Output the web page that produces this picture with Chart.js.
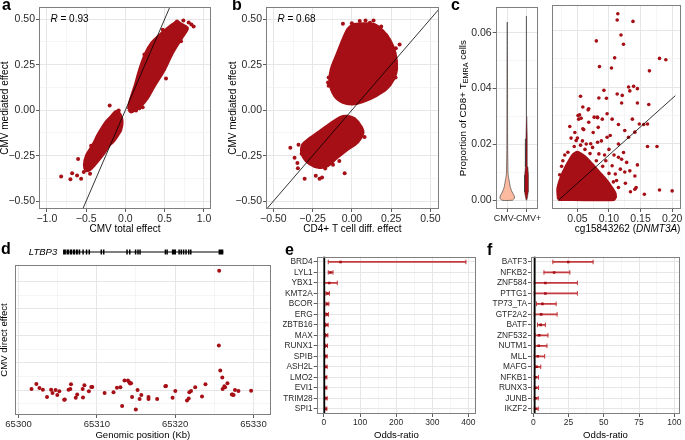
<!DOCTYPE html>
<html>
<head>
<meta charset="utf-8">
<script src="https://cdn.jsdelivr.net/npm/chart.js@4.4.1/dist/chart.umd.min.js"></script>
<style>
  html, body { margin: 0; padding: 0; background: #fff; }
  #fig { position: relative; width: 685px; height: 440px; overflow: hidden; font-family: "Liberation Sans", Arial, sans-serif; }
  #fig canvas { position: absolute; }
  .tag { position: absolute; font-weight: bold; font-size: 16px; line-height: 16px; color: #000; }
</style>
</head>
<body>
<div id="fig">
  <canvas id="ca" width="222" height="236" style="left:0;top:0"></canvas>
  <canvas id="cb" width="220" height="236" style="left:228px;top:0"></canvas>
  <canvas id="cv" width="93" height="236" style="left:450px;top:0"></canvas>
  <canvas id="cs" width="137" height="236" style="left:548px;top:0"></canvas>
  <canvas id="cd" width="282" height="204" style="left:0;top:236px"></canvas>
  <canvas id="ce" width="201" height="204" style="left:283px;top:236px"></canvas>
  <canvas id="cf" width="199" height="204" style="left:486px;top:236px"></canvas>
  <div class="tag" style="left:2px;top:-3px">a</div>
  <div class="tag" style="left:232px;top:-3px">b</div>
  <div class="tag" style="left:451px;top:-3px">c</div>
  <div class="tag" style="left:1px;top:241px">d</div>
  <div class="tag" style="left:285px;top:242px">e</div>
  <div class="tag" style="left:487px;top:242px">f</div>
</div>
<script>
// ---------- colours / fonts
const FONT = '"Liberation Sans", Arial, sans-serif';
const RED = '#A50F15';
const ERR = '#C23B3F';
const GRID = '#E6E6E6';
const GRID_MINOR = '#F1F1F1';
const BORDER = '#7F7F7F';
const TICK = '#333333';
const TXT = '#2a2a2a';

// ---------- panel a : CMV total vs mediated effect
const aUpperCloud = [[0.04,0.005],[0.055,0.043],[0.123,0.134],[0.183,0.225],[0.26,0.315],[0.335,0.369],[0.42,0.406],[0.517,0.442],[0.60,0.47],[0.66,0.485],[0.72,0.47],[0.79,0.451],[0.73,0.406],[0.60,0.315],[0.50,0.225],[0.37,0.134],[0.27,0.06],[0.20,0.025],[0.12,0.0],[0.07,-0.01]];
const aLowerCloud = [[-0.10,-0.005],[-0.06,-0.03],[-0.042,-0.065],[-0.06,-0.11],[-0.098,-0.138],[-0.15,-0.17],[-0.204,-0.192],[-0.289,-0.246],[-0.394,-0.301],[-0.458,-0.328],[-0.50,-0.33],[-0.522,-0.301],[-0.492,-0.246],[-0.415,-0.192],[-0.352,-0.138],[-0.30,-0.10],[-0.246,-0.065],[-0.18,-0.035],[-0.13,-0.01]];
const aOutliers = [[0.657,0.487],[0.738,0.493],[0.806,0.482],[0.869,0.46],[0.84,0.47],[0.475,0.442],[0.708,0.379],[0.517,0.174],[0.242,0.306],[0.25,0.30],[0.157,0.025],[0.136,-0.002],[0.178,0.011],[0.22,0.016],[-0.085,-0.002],[-0.20,0.025],
  [-0.818,-0.364],[-0.678,-0.346],[-0.70,-0.379],[-0.615,-0.359],[-0.564,-0.377],[-0.602,-0.268],[-0.436,-0.196],[-0.49,-0.33],[-0.45,-0.35],[-0.53,-0.34],[-0.47,-0.31]];
const aR = '0.93';

// ---------- panel b : CD4+ T cell diff. effect vs mediated effect
const bUpperCloud = [[0.006,0.47],[0.07,0.475],[0.145,0.47],[0.198,0.435],[0.24,0.388],[0.275,0.315],[0.285,0.225],[0.265,0.17],[0.219,0.116],[0.155,0.08],[0.07,0.047],[0.006,0.034],[-0.057,0.043],[-0.11,0.08],[-0.14,0.152],[-0.131,0.225],[-0.099,0.297],[-0.057,0.388],[-0.025,0.445]];
const bLowerCloud = [[-0.025,-0.033],[0.017,-0.047],[0.06,-0.092],[0.07,-0.128],[0.038,-0.174],[-0.036,-0.22],[-0.099,-0.264],[-0.153,-0.305],[-0.206,-0.315],[-0.269,-0.295],[-0.315,-0.246],[-0.315,-0.192],[-0.269,-0.156],[-0.195,-0.11],[-0.121,-0.065],[-0.068,-0.038]];
const bOutliers = [[-0.057,0.475],[0.0,0.478],[0.018,0.455],[0.087,0.493],[0.138,0.493],[0.187,0.46],[0.304,0.36],[0.28,0.34],[0.278,0.179],[-0.089,0.252],[-0.148,0.179],[-0.152,0.152],[-0.148,0.134],[0.05,0.49],[0.115,0.48],[0.22,0.41],
  [-0.392,-0.207],[-0.365,-0.261],[-0.347,-0.29],[-0.344,-0.319],[-0.301,-0.377],[-0.206,-0.377],[-0.046,-0.346],[0.081,-0.147],[-0.17,-0.32],[-0.23,-0.36],[-0.19,-0.37],[-0.34,-0.19],[-0.32,-0.24],[-0.12,-0.30],[-0.08,-0.28]];
const bR = '0.68';
const identityEnds = [-0.7, 0.7];

// ---------- panel c : violins + scatter
const violinGroups = ['CMV-\u2002', '\u2002CMV+'];
const violinPos = [0, 1];
const cmvNegY = [0, 0.0008, 0.0015, 0.0025, 0.0035, 0.005, 0.007, 0.0085, 0.01, 0.02, 0.04, 0.0638];
const cmvNegHalf = [0.27, 0.38, 0.37, 0.29, 0.22, 0.15, 0.10, 0.06, 0.04, 0.02, 0.015, 0];
const cmvPosY = [0, 0.001, 0.003, 0.006, 0.009, 0.012, 0.016, 0.022, 0.03, 0.045, 0.066];
const cmvPosHalf = [0.01, 0.05, 0.09, 0.11, 0.095, 0.07, 0.045, 0.032, 0.02, 0.013, 0];
const cCore = [[0.02,0.0003],[0.019,0.004],[0.024,0.008],[0.03,0.011],[0.036,0.0135],[0.043,0.016],[0.05,0.017],[0.058,0.016],[0.066,0.0145],[0.076,0.012],[0.086,0.0095],[0.096,0.007],[0.104,0.0045],[0.11,0.0022],[0.108,0.0003]];
const cPoints = [[0.114,0.066],[0.113,0.0638],[0.138,0.0633],[0.119,0.0585],[0.123,0.0552],[0.080,0.0564],[0.109,0.0504],[0.085,0.0473],[0.104,0.0468],[0.180,0.0502],[0.190,0.0497],[0.164,0.0458],[0.131,0.0401],[0.139,0.0403],[0.145,0.0395],[0.133,0.0387],[0.092,0.0389],[0.055,0.0368],[0.084,0.0362],[0.096,0.0361],[0.113,0.0376],[0.121,0.0371],[0.120,0.0344],[0.145,0.0344],[0.163,0.0339],[0.0586,0.033],[0.068,0.0324],[0.067,0.032],[0.097,0.0306],[0.0535,0.0302],[0.0766,0.0294],[0.0817,0.0294],[0.0894,0.0287],[0.105,0.0287],[0.137,0.0287],[0.052,0.0287],[0.056,0.029],
  [0.038,0.0261],[0.0586,0.0253],[0.068,0.0276],[0.082,0.0292],[0.115,0.0268],[0.097,0.0223],[0.102,0.0229],[0.115,0.0199],[0.131,0.0223],[0.141,0.0241],[0.155,0.0268],[0.161,0.019],[0.115,0.0152],[0.12,0.0145],[0.128,0.0134],[0.133,0.0104],[0.141,0.0086],[0.143,0.0045],[0.141,0.0039],[0.156,0.0021],[0.180,0.0036],[0.200,0.0033],[0.110,0.0012],[0.102,0.0045],[0.092,0.0069],[0.110,0.0093],[0.105,0.0122],[0.095,0.014],[0.084,0.0164],[0.074,0.0187],[0.064,0.0199],[0.048,0.0211],[0.051,0.030],[0.083,0.0258],[0.125,0.0247],[0.123,0.0169],[0.082,0.0205],
  [0.075,0.024],[0.088,0.021],[0.06,0.025],[0.1,0.018],[0.108,0.016],[0.118,0.011],[0.126,0.006],[0.134,0.003],[0.112,0.007],[0.125,0.01],[0.046,0.024],[0.04,0.022],[0.03,0.016],[0.025,0.012],[0.028,0.003],[0.145,0.0125],[0.176,0.019],[0.161,0.027],[0.148,0.027],
  [0.045,0.019],[0.055,0.0195],[0.062,0.018],[0.07,0.0165],[0.08,0.014],[0.09,0.012],[0.035,0.017],[0.1,0.0095],[0.107,0.0065],[0.115,0.0045],[0.05,0.022],[0.058,0.021],[0.022,0.009],[0.027,0.014],[0.093,0.016],[0.071,0.02]];
const cFitLine = [[0.02, 0.0], [0.205, 0.037]];

// ---------- panel d : LTBP3 locus
const dKb = [65301.66,65302.28,65302.67,65303.11,65303.64,65304.16,65304.34,65304.73,65304.95,65305.21,65305.83,65305.91,65306.39,65306.61,65306.70,65307.31,65307.49,65308.19,65308.23,65308.41,65308.98,65309.29,65309.42,65310.99,65312.13,65312.57,65313.01,65313.23,65313.53,65313.97,65314.15,65314.24,65314.37,65314.50,65314.98,65315.20,65315.46,65315.68,65316.60,65316.60,65317.70,65318.75,65318.83,65319.67,65320.02,65321.51,65321.73,65321.81,65322.03,65322.56,65323.43,65323.87,65325.62,65325.58,65325.76,65326.02,65326.06,65326.28,65326.37,65326.68,65327.24,65327.33,65327.46,65327.64,65328.08,65329.70];
const dEffect = [0.075,0.45,0.15,0.025,-0.525,0.025,-0.225,0,-0.375,-0.1,-0.725,-0.7,0.025,0.075,0.425,-0.575,-0.325,0.075,-0.55,0.35,-0.1,0.225,0.225,-0.225,-0.175,0.175,0.2,-1.175,0.7,0.7,0.575,0.475,0.5,-0.525,-1.45,0,-0.675,-0.375,-0.525,-0.675,-0.675,0.275,0.3,-0.575,-0.075,-0.775,-0.625,-0.175,-0.075,0.2,-0.475,0.425,8.825,3.3,1.45,0.925,0.075,0.275,0.2,0.5,-0.325,-0.325,-0.375,0,-0.075,-0.05];
const geneName = 'LTBP3';
const geneSpan = [65305.69, 65326.15];
const exonStart = [65305.69,65306.13,65306.53,65306.92,65307.32,65307.67,65308.15,65308.59,65308.94,65310.47,65310.78,65313.76,65314.11,65314.85,65315.16,65315.42,65318.66,65318.88,65319.58,65320.41,65320.68,65320.98,65321.29,65321.64,65321.90,65325.54];
const exonEnd   = [65306.05,65306.44,65306.83,65307.23,65307.58,65307.88,65308.25,65308.69,65309.04,65310.57,65310.88,65313.86,65314.21,65314.95,65315.26,65315.52,65318.76,65318.98,65320.11,65320.51,65320.78,65321.08,65321.39,65321.74,65322.00,65326.15];

// ---------- panel e : odds ratios
const eGenes = ['BRD4','LYL1','YBX1','KMT2A','BCOR','ERG','ZBTB16','MAX','RUNX1','SPIB','ASH2L','LMO2','EVI1','TRIM28','SPI1'];
const eOR   = [46, 18, 14.5, 10, 9, 8.2, 7.3, 6.4, 6.4, 5.5, 5.5, 4.5, 4.5, 5.5, 4.5];
const eLow  = [12, 12, 1, 5.5, 5.5, 5.5, 4.5, 4.5, 3.6, 3.6, 2.7, 2.7, 2.7, 2.7, 2.7];
const eHigh = [393, 25, 37, 15.5, 13.6, 12.7, 11.8, 10.9, 10, 9, 9, 8.2, 8.2, 9, 8.2];

// ---------- panel f : odds ratios
const fGenes = ['BATF3','NFKB2','ZNF584','PTTG1','TP73_TA','GTF2A2','BATF','ZNF532','NUTM1','MLL','MAFG','NFKB1','RUNX3','JUNB','IKZF2'];
const fOR   = [24.8, 14.8, 8.6, 8.6, 6.5, 5.6, 5.3, 4.2, 3.9, 3.2, 2.5, 1.6, 1.6, 1.6, 1.6];
const fLow  = [13.9, 7.6, 0.7, 0.7, 2.3, 0.7, 3, 1.2, 1.2, 0.7, 1.2, 0.7, 0.7, 0.7, 0.7];
const fHigh = [42.4, 25.9, 31.3, 31.3, 16.2, 16.9, 8.6, 10.4, 9.7, 8.1, 5.3, 3.7, 3.7, 3.5, 3.5];
const oddsRef = 1;

// ---------- helpers
const neg = s => s.replace('-', '\u2212');
const pts = arr => arr.map(([x, y]) => ({x, y}));
const closed = arr => { const p = pts(arr); p.push(p[0]); return p; };

function linAxis(min, max, majors, minors, fmt, o) {
  o = o || {};
  const all = majors.concat(minors).sort((a, b) => a - b);
  const isMajor = v => majors.some(m => Math.abs(m - v) < 1e-9);
  return {
    type: 'linear', min, max, bounds: 'data',
    afterBuildTicks: s => { s.ticks = all.map(v => ({value: v})); },
    afterFit: s => { if (o.size != null) { if (s.isHorizontal()) s.height = o.size; else s.width = o.size; } },
    grid: {
      color: c => (c.tick && isMajor(c.tick.value)) ? GRID : GRID_MINOR,
      lineWidth: c => (c.tick && isMajor(c.tick.value)) ? 1 : 0.7,
      drawTicks: o.ticks !== false, tickLength: 3, tickWidth: 0.8,
      tickColor: c => (c.tick && isMajor(c.tick.value)) ? TICK : 'rgba(0,0,0,0)'
    },
    border: {display: false},
    ticks: {
      display: o.labels !== false, autoSkip: false, maxRotation: 0, padding: 1, color: TXT,
      font: {family: FONT, size: o.fs || 10.5},
      callback: v => isMajor(v) ? fmt(v) : ''
    }
  };
}

function baseOptions(pad, scales) {
  return {
    responsive: false, animation: false, devicePixelRatio: 1, events: [],
    layout: {padding: pad},
    plugins: {legend: {display: false}, tooltip: {enabled: false}},
    scales
  };
}

const boxPlugin = {
  id: 'box',
  afterDraw(chart) {
    const {ctx, chartArea: a} = chart;
    ctx.save();
    ctx.strokeStyle = BORDER; ctx.lineWidth = 1;
    const l = Math.round(a.left), t = Math.round(a.top), r = Math.round(a.right), b = Math.round(a.bottom);
    ctx.strokeRect(l + 0.5, t + 0.5, r - l - 1, b - t - 1);
    ctx.restore();
  }
};

function drawRich(ctx, parts, x, y, rot, size, align) {
  const fontFor = p => (p.it ? 'italic ' : '') + (p.sub ? size * 0.74 : size) + 'px ' + FONT;
  let w = 0;
  parts.forEach(p => { ctx.font = fontFor(p); w += ctx.measureText(p.t).width; });
  ctx.save();
  ctx.translate(x, y); ctx.rotate(rot);
  ctx.fillStyle = '#000'; ctx.textBaseline = 'middle'; ctx.textAlign = 'left';
  let cx = align === 'left' ? 0 : -w / 2;
  parts.forEach(p => {
    ctx.font = fontFor(p);
    ctx.fillText(p.t, cx, p.sub ? size * 0.32 : 0);
    cx += ctx.measureText(p.t).width;
  });
  ctx.restore();
}

function textPlugin(items) {
  return {
    id: 'txt',
    afterDraw(chart) {
      const {ctx, chartArea: a} = chart;
      items.forEach(it => drawRich(ctx, it.parts, it.x(a), it.y(a), it.rot || 0, it.size, it.align));
    }
  };
}

const cloudDs = arr => ({type: 'line', data: closed(arr), fill: 'shape', backgroundColor: RED, borderColor: RED, borderWidth: 3, pointRadius: 0, tension: 0.3});
const dotDs = (arr, r) => ({type: 'scatter', data: pts(arr), pointRadius: r, backgroundColor: RED, borderWidth: 0});
const lineDs = arr => ({type: 'line', data: pts(arr), borderColor: '#000', borderWidth: 0.8, pointRadius: 0, fill: false});

// ---------- panel a
new Chart(document.getElementById('ca'), {
  type: 'scatter',
  data: {datasets: [
    lineDs([[identityEnds[0], identityEnds[0]], [identityEnds[1], identityEnds[1]]]),
    dotDs(aOutliers, 2),
    cloudDs(aUpperCloud),
    cloudDs(aLowerCloud)
  ]},
  options: baseOptions({top: 5, right: 11, left: 0, bottom: 0}, {
    x: linAxis(-1.1, 1.09, [-1, -0.5, 0, 0.5, 1], [-0.75, -0.25, 0.25, 0.75], v => neg(v.toFixed(1)), {size: 27}),
    y: linAxis(-0.543, 0.565, [-0.5, -0.25, 0, 0.25, 0.5], [-0.375, -0.125, 0.125, 0.375], v => neg(v.toFixed(2)), {size: 39})
  }),
  plugins: [boxPlugin, textPlugin([
    {parts: [{t: 'CMV total effect'}], x: a => (a.left + a.right) / 2, y: a => a.bottom + 20.5, size: 10},
    {parts: [{t: 'CMV mediated effect'}], x: a => a.left - 33.5, y: a => (a.top + a.bottom) / 2, rot: -Math.PI / 2, size: 10},
    {parts: [{t: 'R', it: true}, {t: ' = ' + aR}], x: a => a.left + 11.5, y: a => a.top + 11.5, size: 10, align: 'left'}
  ])]
});

// ---------- panel b
new Chart(document.getElementById('cb'), {
  type: 'scatter',
  data: {datasets: [
    lineDs([[identityEnds[0], identityEnds[0]], [identityEnds[1], identityEnds[1]]]),
    dotDs(bOutliers, 2),
    cloudDs(bUpperCloud),
    cloudDs(bLowerCloud)
  ]},
  options: baseOptions({top: 5, right: 9, left: 0, bottom: 0}, {
    x: linAxis(-0.547, 0.555, [-0.5, -0.25, 0, 0.25, 0.5], [-0.375, -0.125, 0.125, 0.375], v => neg(v.toFixed(2)), {size: 27}),
    y: linAxis(-0.543, 0.565, [-0.5, -0.25, 0, 0.25, 0.5], [-0.375, -0.125, 0.125, 0.375], v => neg(v.toFixed(2)), {size: 38})
  }),
  plugins: [boxPlugin, textPlugin([
    {parts: [{t: 'CD4+ T cell diff. effect'}], x: a => (a.left + a.right) / 2, y: a => a.bottom + 20.5, size: 10},
    {parts: [{t: 'CMV mediated effect'}], x: a => a.left - 32.5, y: a => (a.top + a.bottom) / 2, rot: -Math.PI / 2, size: 10},
    {parts: [{t: 'R', it: true}, {t: ' = ' + bR}], x: a => a.left + 11.5, y: a => a.top + 11.5, size: 10, align: 'left'}
  ])]
});

// ---------- panel c (violins)
function violinPolygon(center, ys, half) {
  const right = ys.map((y, i) => ({x: center + half[i], y}));
  const left = ys.map((y, i) => ({x: center - half[i], y})).reverse();
  const p = right.concat(left); p.push(p[0]); return p;
}
const cY = () => linAxis(-0.0031, 0.0691, [0, 0.02, 0.04, 0.06], [0.01, 0.03, 0.05], v => v.toFixed(2), {size: 45.7});
new Chart(document.getElementById('cv'), {
  type: 'scatter',
  data: {datasets: [
    {type: 'line', data: violinPolygon(violinPos[0], cmvNegY, cmvNegHalf), fill: 'shape', backgroundColor: '#FCBBA1', borderColor: '#2b2b2b', borderWidth: 0.6, pointRadius: 0, tension: 0.2},
    {type: 'line', data: violinPolygon(violinPos[1], cmvPosY, cmvPosHalf), fill: 'shape', backgroundColor: RED, borderColor: '#2b2b2b', borderWidth: 0.5, pointRadius: 0, tension: 0}
  ]},
  options: baseOptions({top: 5, right: 2.3, left: 0, bottom: 0}, {
    x: {
      type: 'linear', min: -0.6, max: 1.6,
      afterBuildTicks: s => { s.ticks = violinPos.map(v => ({value: v})); },
      afterFit: s => { s.height = 27; },
      grid: {color: GRID, drawTicks: true, tickLength: 3, tickWidth: 0.8, tickColor: TICK},
      border: {display: false},
      ticks: {autoSkip: false, maxRotation: 0, padding: 1, color: TXT, font: {family: FONT, size: 9},
              callback: v => violinGroups[violinPos.indexOf(v)]}
    },
    y: cY()
  }),
  plugins: [boxPlugin, textPlugin([
    {parts: [{t: 'Proportion of CD8+ T'}, {t: 'EMRA', sub: true}, {t: ' cells'}], x: a => a.left - 32.7, y: a => (a.top + a.bottom) / 2, rot: -Math.PI / 2, size: 9.8}
  ])]
});

// ---------- panel c (scatter)
const csY = cY();
csY.afterFit = s => { s.width = 4.3; };
csY.ticks.display = false;
csY.grid.drawTicks = false;
new Chart(document.getElementById('cs'), {
  type: 'scatter',
  data: {datasets: [
    lineDs(cFitLine),
    dotDs(cPoints, 1.8),
    {type: 'line', data: closed(cCore), fill: 'shape', backgroundColor: RED, borderColor: RED, borderWidth: 3, pointRadius: 0, tension: 0.2}
  ]},
  options: baseOptions({top: 5, right: 1, left: 0, bottom: 0}, {
    x: linAxis(0.0103, 0.214, [0.05, 0.1, 0.15, 0.2], [0.025, 0.075, 0.125, 0.175], v => v.toFixed(2), {size: 27}),
    y: csY
  }),
  plugins: [boxPlugin, textPlugin([
    {parts: [{t: 'cg15843262 ('}, {t: 'DNMT3A', it: true}, {t: ')'}], x: a => (a.left + a.right) / 2 + 11, y: a => a.bottom + 20.5, size: 10}
  ])]
});

// ---------- panel d
const genePlugin = {
  id: 'gene',
  afterDraw(chart) {
    const {ctx, chartArea: a, scales: {x}} = chart;
    const y = a.top - 13.5;
    ctx.save();
    ctx.strokeStyle = '#000'; ctx.lineWidth = 1;
    ctx.beginPath();
    ctx.moveTo(x.getPixelForValue(geneSpan[0]), y + 0.5);
    ctx.lineTo(x.getPixelForValue(geneSpan[1]), y + 0.5);
    ctx.stroke();
    ctx.fillStyle = '#000';
    exonStart.forEach((s, i) => {
      const x0 = x.getPixelForValue(s), x1 = x.getPixelForValue(exonEnd[i]);
      ctx.fillRect(x0, y - 2, Math.max(1.5, x1 - x0), 5);
    });
    ctx.restore();
    drawRich(ctx, [{t: geneName, it: true}], a.left + 28, y + 0.5, 0, 9.5);
  }
};
new Chart(document.getElementById('cd'), {
  type: 'scatter',
  data: {datasets: [
    {type: 'scatter', data: dKb.map((k, i) => ({x: k, y: dEffect[i]})), pointRadius: 2, backgroundColor: RED, borderWidth: 0}
  ]},
  options: baseOptions({top: 29, right: 11.3, left: 0, bottom: 0}, {
    x: linAxis(65299.55, 65332.2, [65300, 65310, 65320, 65330], [65305, 65315, 65325], v => String(v), {size: 25, fs: 9.5}),
    y: linAxis(-1.85, 9.25, [0, 2, 4, 6, 8], [-1, 1, 3, 5, 7], v => '', {size: 15, labels: false, ticks: false})
  }),
  plugins: [boxPlugin, genePlugin, textPlugin([
    {parts: [{t: 'Genomic position (Kb)'}], x: a => (a.left + a.right) / 2, y: a => a.bottom + 20, size: 9.6},
    {parts: [{t: 'CMV direct effect'}], x: a => a.left - 11, y: a => (a.top + a.bottom) / 2, rot: -Math.PI / 2, size: 9.6}
  ])]
});

// ---------- panels e, f
const refPlugin = {
  id: 'ref',
  afterDatasetsDraw(chart) {
    const {ctx, chartArea: a, scales: {x}} = chart;
    const px = x.getPixelForValue(oddsRef);
    ctx.save();
    ctx.strokeStyle = '#000'; ctx.lineWidth = 1.8;
    ctx.beginPath(); ctx.moveTo(px, a.top); ctx.lineTo(px, a.bottom); ctx.stroke();
    ctx.restore();
  }
};
function forest(id, genes, est, lo, hi, xAxis, yWidth, padRight) {
  new Chart(document.getElementById(id), {
    type: 'bar',
    data: {labels: genes, datasets: [
      {type: 'scatter', data: genes.map((g, i) => ({x: est[i], y: g})), pointStyle: 'rect', pointRadius: 1.8, backgroundColor: RED, borderWidth: 0},
      {type: 'scatter', data: genes.flatMap((g, i) => [{x: lo[i], y: g}, {x: hi[i], y: g}]), pointStyle: 'line', rotation: 90, pointRadius: 2.3, borderColor: ERR, borderWidth: 1},
      {type: 'bar', data: genes.map((g, i) => [lo[i], hi[i]]), backgroundColor: ERR, barThickness: 1.2}
    ]},
    options: Object.assign(baseOptions({top: 20.7, right: padRight, left: 0, bottom: 0}, {
      x: xAxis,
      y: {
        type: 'category', offset: true,
        afterFit: s => { s.width = yWidth; },
        grid: {offset: false, color: GRID, drawTicks: true, tickLength: 3, tickWidth: 0.8, tickColor: TICK},
        border: {display: false},
        ticks: {autoSkip: false, padding: 1, color: TXT, font: {family: FONT, size: 8.3}}
      }
    }), {indexAxis: 'y'}),
    plugins: [boxPlugin, refPlugin, textPlugin([
      {parts: [{t: 'Odds-ratio'}], x: a => (a.left + a.right) / 2, y: a => a.bottom + 21, size: 9.6}
    ])]
  });
}
forest('ce', eGenes, eOR, eLow, eHigh,
  linAxis(-20, 421, [0, 100, 200, 300, 400], [50, 150, 250, 350], v => String(v), {size: 26, fs: 8.5}), 33.7, 8);
forest('cf', fGenes, fOR, fLow, fHigh,
  linAxis(-1.6, 104, [0, 25, 50, 75, 100], [12.5, 37.5, 62.5, 87.5], v => String(v), {size: 26, fs: 8.5}), 45, 1.5);
</script>
</body>
</html>
